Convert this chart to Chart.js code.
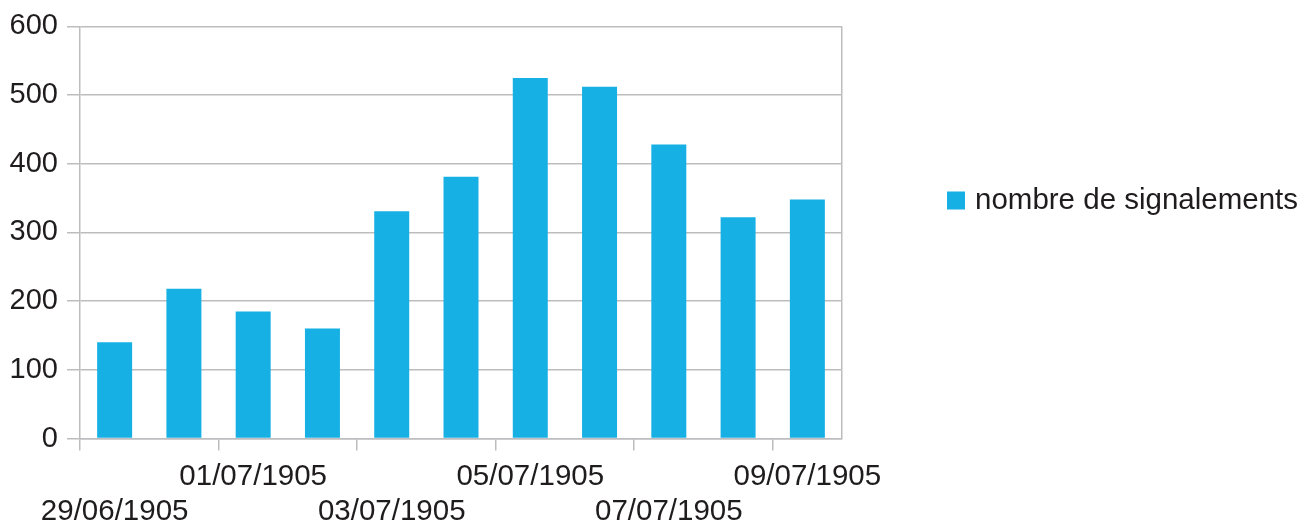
<!DOCTYPE html>
<html>
<head>
<meta charset="utf-8">
<script src="https://cdn.jsdelivr.net/npm/chart.js@4.4.1/dist/chart.umd.min.js"></script>
<style>
  html, body { margin: 0; padding: 0; background: #ffffff; }
  #wrap { width: 1315px; height: 525px; position: relative; }
</style>
</head>
<body>
<div id="wrap"><canvas id="chart"></canvas></div>
<script>
// Daily counts, 29 June – 9 July 1905
const dates = ['29/06/1905', '30/06/1905', '01/07/1905', '02/07/1905', '03/07/1905', '04/07/1905',
               '05/07/1905', '06/07/1905', '07/07/1905', '08/07/1905', '09/07/1905'];
const signalements = [140, 218, 185, 160, 331, 381, 525, 512, 428, 322, 348];
const seriesName = 'nombre de signalements';
const yMin = 0;
const yMax = 600;
const yStep = 100;

const BAR = '#16B0E4';
const GRID = '#BDBDBF';
const TEXT = '#1F1C1D';
const FONT = "'Liberation Sans', Arial, Helvetica, sans-serif";
const FONT_SIZE = 29.5;
const Y_FONT_SIZE = 29;

// Legend drawn to the right of the plot, level with the upper half of the bars
const sideLegend = {
  id: 'sideLegend',
  afterDraw(chart) {
    const ctx = chart.ctx;
    const ds = chart.data.datasets[0];
    const x0 = chart.chartArea.right + 105;
    const yMid = 200.5;
    ctx.save();
    ctx.fillStyle = ds.backgroundColor;
    ctx.fillRect(x0, yMid - 9, 18, 18);
    ctx.fillStyle = TEXT;
    ctx.font = FONT_SIZE + 'px ' + FONT;
    ctx.textBaseline = 'middle';
    ctx.textAlign = 'left';
    ctx.fillText(ds.label, x0 + 28, yMid);
    ctx.restore();
  }
};

new Chart(document.getElementById('chart'), {
  type: 'bar',
  data: {
    labels: dates,
    datasets: [{
      label: seriesName,
      data: signalements,
      backgroundColor: BAR,
      borderWidth: 0,
      categoryPercentage: 1,
      barPercentage: 0.505
    }]
  },
  options: {
    responsive: true,
    maintainAspectRatio: false,
    animation: false,
    layout: { padding: { top: 24, right: 473, bottom: 0, left: 0 } },
    plugins: {
      legend: { display: false },
      tooltip: { enabled: false }
    },
    scales: {
      x: {
        offset: true,
        grid: {
          offset: true,
          drawOnChartArea: true,
          lineWidth: 1.5,
          tickLength: 12,
          // only the closing line on the right edge of the plot is drawn inside it
          color: (c) => (c.type === 'tick' ? 'transparent' : GRID),
          // tick marks every second day
          tickColor: (c) => (c.type === 'tick' && c.index % 2 === 0 ? GRID : 'transparent')
        },
        border: { color: GRID, width: 1.5 },
        ticks: {
          autoSkip: false,
          maxRotation: 0,
          minRotation: 0,
          padding: 9,
          color: TEXT,
          font: { family: FONT, size: FONT_SIZE, lineHeight: 1.19 },
          // every second date, staggered over two rows
          callback: (v, i) => {
            if (i % 4 === 0) return ['', dates[i]];
            if (i % 4 === 2) return dates[i];
            return '';
          }
        },
        afterFit: (scale) => { scale.height = 86.5; }
      },
      y: {
        min: yMin,
        max: yMax,
        grid: {
          color: GRID,
          tickColor: GRID,
          lineWidth: 1.5,
          tickLength: 13
        },
        border: { color: GRID, width: 1.5 },
        ticks: {
          stepSize: yStep,
          padding: 9,
          color: TEXT,
          font: { family: FONT, size: Y_FONT_SIZE }
        },
        afterFit: (scale) => { scale.width = 80; }
      }
    }
  },
  plugins: [sideLegend]
});
</script>
</body>
</html>
